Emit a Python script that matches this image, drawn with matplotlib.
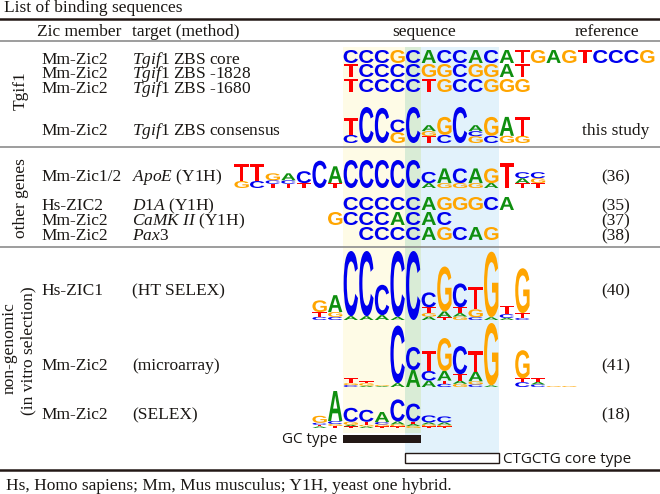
import matplotlib
matplotlib.use("Agg")
import matplotlib.pyplot as plt
from matplotlib.textpath import TextPath
from matplotlib.patches import PathPatch, Rectangle
from matplotlib.font_manager import FontProperties
from matplotlib.transforms import Affine2D

plt.rcParams["font.family"] = "Liberation Serif"
plt.rcParams["mathtext.fontset"] = "custom"
plt.rcParams["mathtext.rm"] = "Liberation Serif"
plt.rcParams["mathtext.it"] = "Liberation Serif:italic"

# ---- data ----
title = "List of binding sequences"
headers = ["Zic member", "target (method)", "sequence", "reference"]
footnote = "Hs, Homo sapiens; Mm, Mus musculus; Y1H, yeast one hybrid."

groups = ["Tgif1", "other genes", "non-genomic", "(in vitro selection)"]

members = ["Mm-Zic2", "Mm-Zic2", "Mm-Zic2", "Mm-Zic2",
           "Mm-Zic1/2", "Hs-ZIC2", "Mm-Zic2", "Mm-Zic2",
           "Hs-ZIC1", "Mm-Zic2", "Mm-Zic2"]
targets = [r"$\mathit{Tgif1}$ ZBS core", r"$\mathit{Tgif1}$ ZBS -1828",
           r"$\mathit{Tgif1}$ ZBS -1680", r"$\mathit{Tgif1}$ ZBS consensus",
           r"$\mathit{ApoE}$ (Y1H)", r"$\mathit{D1A}$ (Y1H)",
           r"$\mathit{CaMK\ II}$ (Y1H)", r"$\mathit{Pax3}$",
           "(HT SELEX)", "(microarray)", "(SELEX)"]
references = ["", "", "", "this study", "(36)", "(35)", "(37)", "(38)",
              "(40)", "(41)", "(18)"]

# plain sequences: (sequence, first position)
tgif_core = ("CCCGCACCACATGAGTCCCG", 0)
tgif_1828 = ("TCCCCGGCGGAT", 0)
tgif_1680 = ("TCCCCTGCCGGG", 0)
d1a_seq = ("CCCCCAGGGCA", 0)
camk_seq = ("GCCCACAC", -1)
pax3_seq = ("CCCCAGCAG", 1)

# logos: columns of (letter, bits), bottom to top
tgif_consensus = [
    [("C", .45), ("T", .95)],
    [("C", 2.0)],
    [("C", 1.95)],
    [("G", .6), ("C", .7)],
    [("C", 2.0)],
    [("T", .38), ("G", .28), ("A", .33)],
    [("C", .45), ("G", 1.0)],
    [("C", 2.0)],
    [("G", .38), ("C", .28), ("A", .33)],
    [("C", .4), ("G", 1.05)],
    [("G", .4), ("A", 1.05)],
    [("G", .4), ("T", 1.05)],
]
apoe_logo = [
    [("G", .5), ("T", 1.2)],
    [("C", .5), ("T", 1.2)],
    [("T", .3), ("C", .25), ("G", .5)],
    [("T", .3), ("C", .25), ("A", .5)],
    [("T", .35), ("C", .85)],
    [("C", 1.95)],
    [("T", .35), ("A", 1.2)],
    [("C", 2.0)], [("C", 2.0)], [("C", 2.0)], [("C", 2.0)], [("C", 2.0)],
    [("A", .35), ("C", .8)],
    [("G", .35), ("A", 1.05)],
    [("G", .35), ("C", 1.05)],
    [("G", .35), ("A", 1.05)],
    [("A", .35), ("G", 1.05)],
    [("T", 1.8)],
    [("T", .35), ("A", .35), ("C", .43)],
    [("T", .35), ("G", .35), ("C", .43)],
]
ht_selex_logo = [
    [("C", .09), ("T", .14), ("G", .34)],
    [("C", .09), ("G", .14), ("A", .49)],
    [("A", .11), ("C", 1.89)],
    [("A", .11), ("C", 1.89)],
    [("A", .14), ("C", .88)],
    [("A", .09), ("C", 1.91)],
    [("C", 2.0)],
    [("A", .1), ("G", .1), ("T", .17), ("C", .43)],
    [("T", .08), ("A", .17), ("G", 1.3)],
    [("G", .1), ("A", .1), ("T", .17), ("C", .69)],
    [("C", .08), ("G", .23), ("T", .66)],
    [("A", .08), ("G", 1.9)],
    [("A", .06), ("C", .11), ("T", .23)],
    [("C", .06), ("T", .14), ("G", 1.3)],
]
microarray_logo = [
    [("C", .06), ("G", .06), ("T", .15)],
    [("A", .04), ("G", .08), ("T", .06)],
    [("A", .03), ("G", .03)],
    [("A", .12), ("C", 1.8)],
    [("A", .53), ("C", .72)],
    [("A", .2), ("C", .3), ("T", .63)],
    [("C", .1), ("T", .1), ("A", .3), ("G", 1.03)],
    [("G", .1), ("A", .1), ("T", .2), ("C", .88)],
    [("C", .08), ("G", .1), ("A", .3), ("T", .63)],
    [("A", .05), ("G", 1.95)],
    [],
    [("C", .15), ("T", .12), ("G", .88)],
    [("C", .08), ("A", .08), ("T", .12)],
    [("G", .03)],
    [("G", .03)],
]
selex_logo = [
    [("A", .08), ("T", .08), ("C", .1), ("G", .35)],
    [("T", .1), ("G", .1), ("C", .15), ("A", 1.5)],
    [("T", .08), ("A", .08), ("G", .15), ("C", .7)],
    [("A", .08), ("G", .08), ("T", .15), ("C", .6)],
    [("T", .08), ("G", .1), ("C", .12), ("A", .5)],
    [("T", .08), ("G", .1), ("A", .15), ("C", 1.1)],
    [("G", .1), ("A", .1), ("T", .12), ("C", .9)],
    [("T", .08), ("G", .1), ("A", .1), ("C", .35)],
    [("T", .08), ("G", .08), ("A", .12), ("C", .3)],
]

gc_type = ("GC type", 0, 5)
ctg_type = ("CTGCTG core type", 4, 10)

# ---- layout (pixels, y down) ----
X0, COLW = 343.0, 15.6
INK = "#1a1714"
COLORS = {"A": "#0f8f0f", "C": "#0000ee", "G": "#ffa500", "T": "#ff0000"}
row_base = [64, 77.5, 93, 134.5, 181, 210, 225, 240, 295, 370, 419]

LOGO_FONT = FontProperties(family="Liberation Sans", weight="bold")
_glyphs = {}


def draw_letter(ax, letter, pos, bottom, height, wfrac=0.92):
    if letter not in _glyphs:
        _glyphs[letter] = TextPath((0, 0), letter, size=100, prop=LOGO_FONT)
    p = _glyphs[letter]
    ext = p.get_extents()
    w = COLW * wfrac
    left = X0 + pos * COLW + (COLW - w) / 2
    tr = (Affine2D().translate(-ext.x0, -ext.y0)
          .scale(w / ext.width, -height / ext.height)
          .translate(left, bottom))
    ax.add_patch(PathPatch(tr.transform_path(p), lw=0, fc=COLORS[letter], zorder=3))


def draw_seq(ax, seq, bottom, height=13):
    letters, start = seq
    for i, ch in enumerate(letters):
        draw_letter(ax, ch, start + i, bottom, height)


def draw_logo(ax, logo, start, baseline, px_per_bit):
    for i, col in enumerate(logo):
        y = baseline
        for ch, bits in col:
            h = bits * px_per_bit
            if h > 0.3:
                draw_letter(ax, ch, start + i, y, h)
            y -= h


fig = plt.figure(figsize=(6.6, 4.94), dpi=100)
ax = fig.add_axes([0, 0, 1, 1])
ax.set_xlim(0, 660)
ax.set_ylim(494, 0)
ax.axis("off")

# shaded position bands
def band(span, y0, y1, color):
    a, b = span
    ax.add_patch(Rectangle((X0 + a * COLW, y0), (b - a) * COLW, y1 - y0,
                           fc=color, lw=0, zorder=0))

band((gc_type[1], gc_type[2]), 47, 433, "#fefbe6")
band((ctg_type[1], ctg_type[2]), 47, 453, "#e2f2fb")
band((ctg_type[1], gc_type[2]), 47, 433, "#d9ecd6")

# rules
ax.axhline(19, color="#231815", lw=1.8)
for y in (41, 147, 247):
    ax.axhline(y, color="#8c8c8c", lw=1.2)
ax.axhline(470, color="#231815", lw=1.8)

fs = 12.5
ax.text(4, 12, title, fontsize=fs, color=INK, va="baseline")
ax.text(37, 35.5, headers[0], fontsize=fs, color=INK, va="baseline")
ax.text(132, 35.5, headers[1], fontsize=fs, color=INK, va="baseline")
ax.text(424, 35.5, headers[2], fontsize=fs, color=INK, va="baseline", ha="center")
ax.text(607, 35.5, headers[3], fontsize=fs, color=INK, va="baseline", ha="center")

for m, t, r, yb in zip(members, targets, references, row_base):
    ax.text(41, yb, m, fontsize=fs, color=INK, va="baseline")
    ax.text(132, yb, t, fontsize=fs, color=INK, va="baseline")
    if r:
        ax.text(616, yb, r, fontsize=fs, color=INK, va="baseline", ha="center")

ax.text(21, 91, groups[0], fontsize=fs, color=INK, rotation=90, ha="center", va="center")
ax.text(21, 198, groups[1], fontsize=fs, color=INK, rotation=90, ha="center", va="center")
ax.text(10, 348, groups[2], fontsize=fs, color=INK, rotation=90, ha="center", va="center")
ax.text(28, 351, groups[3], fontsize=fs, color=INK, rotation=90, ha="center", va="center")

ax.text(6, 490, footnote, fontsize=fs, color=INK, va="baseline")

# sequences
draw_seq(ax, tgif_core, 63)
draw_seq(ax, tgif_1828, 77)
draw_seq(ax, tgif_1680, 92)
draw_seq(ax, d1a_seq, 210)
draw_seq(ax, camk_seq, 225)
draw_seq(ax, pax3_seq, 240)

draw_logo(ax, tgif_consensus, 0, 143, 18)
draw_logo(ax, apoe_logo, -7, 188, 14)
draw_logo(ax, ht_selex_logo, -2, 320, 34.5)
draw_logo(ax, microarray_logo, 0, 387, 32)
draw_logo(ax, selex_logo, -2, 428, 20)

# type bars
sans = "Open Sans"
a, b = gc_type[1], gc_type[2]
ax.add_patch(Rectangle((X0 + a * COLW, 435), (b - a) * COLW, 8, fc="#231815", lw=0, zorder=3))
ax.text(X0 + a * COLW - 5, 443, gc_type[0], fontsize=11, family=sans, color=INK,
        ha="right", va="baseline")
a, b = ctg_type[1], ctg_type[2]
ax.add_patch(Rectangle((X0 + a * COLW, 453), (b - a) * COLW, 10, fc="white",
                       ec="#231815", lw=1.0, zorder=3))
ax.text(X0 + b * COLW + 4, 463, ctg_type[0], fontsize=11, family=sans, color=INK,
        va="baseline")

fig.savefig("out.png", dpi=100)
